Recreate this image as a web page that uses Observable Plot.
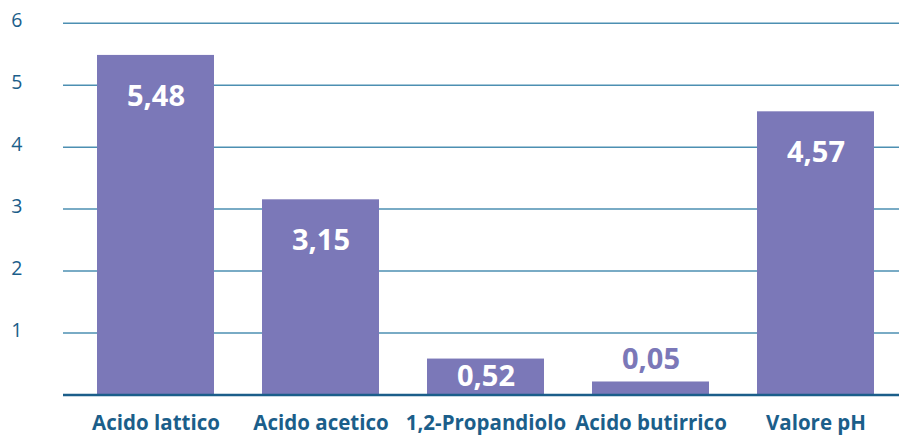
<!DOCTYPE html>
<html>
<head>
<meta charset="utf-8">
<script src="https://cdn.jsdelivr.net/npm/d3@7"></script>
<script src="https://cdn.jsdelivr.net/npm/@observablehq/plot@0.6"></script>
<style>
  html, body { margin: 0; padding: 0; background: #fff; }
  #chart svg { display: block; }
</style>
</head>
<body>
<div id="chart"></div>
<script>
const categories = ["Acido lattico", "Acido acetico", "1,2-Propandiolo", "Acido butirrico", "Valore pH"];
// bar heights as drawn in the reference picture
const values = [5.48, 3.15, 0.58, 0.21, 4.57];
// value labels as printed in the reference picture
const valueLabels = ["5,48", "3,15", "0,52", "0,05", "4,57"];
const yTicks = [1, 2, 3, 4, 5, 6];

const data = categories.map((c, i) => ({category: c, value: values[i], label: valueLabels[i]}));
const tall = data.filter(d => d.value >= 1);
const mid = data.filter(d => d.value >= 0.4 && d.value < 1);
const small = data.filter(d => d.value < 0.4);

const barColor = "#7b78b8";
const axisColor = "#1b5e8a";
const font = "'Open Sans', sans-serif";

const chart = Plot.plot({
  width: 899,
  height: 437,
  marginLeft: 63,
  marginRight: 0,
  marginTop: 22,
  marginBottom: 42,
  style: {fontFamily: font, background: "#fff"},
  x: {domain: categories, range: [71, 900], paddingInner: 0.288, paddingOuter: 0.144, label: null},
  y: {domain: [0, 6], range: [394.5, 22.7], label: null},
  marks: [
    Plot.ruleY(yTicks, {stroke: "#4d8fb2", strokeWidth: 1.5}),
    Plot.barY(data, {x: "category", y: "value", fill: barColor}),
    Plot.ruleY([0], {stroke: axisColor, strokeWidth: 2.5}),
    Plot.axisY(yTicks, {tickSize: 0, tickPadding: 41, fontSize: 19.5, fill: axisColor, dy: -2, textAnchor: "end", tickFormat: d => String(d)}),
    Plot.axisX({tickSize: 0, tickPadding: 20, fontSize: 20.5, fontWeight: "bold", fill: axisColor}),
    Plot.text(tall, {x: "category", y: "value", text: "label", dy: 41, fill: "white", fontSize: 29, fontWeight: "bold"}),
    Plot.text(mid, {x: "category", y: d => d.value / 2, text: "label", fill: "white", fontSize: 29, fontWeight: "bold"}),
    Plot.text(small, {x: "category", y: "value", text: "label", dy: -22, fill: barColor, fontSize: 29, fontWeight: "bold"})
  ]
});
document.getElementById("chart").appendChild(chart);
</script>
</body>
</html>
